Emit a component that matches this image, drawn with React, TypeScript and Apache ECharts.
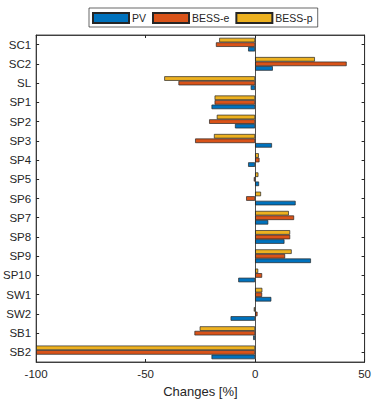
import React, { useEffect, useRef } from "react";
import * as echarts from "echarts";

const categories = ["SC1", "SC2", "SL", "SP1", "SP2", "SP3", "SP4", "SP5", "SP6", "SP7", "SP8", "SP9", "SP10", "SW1", "SW2", "SB1", "SB2"];
const pv = [-3.2, 8.1, -2.0, -19.9, -9.2, 7.7, -3.2, 1.8, 18.5, 6.0, 13.4, 25.5, -7.7, 7.4, -11.2, -0.9, -19.9];
const bessE = [-17.9, 41.8, -35.0, -18.5, -21.0, -27.4, 2.0, -0.6, -4.1, 17.8, 16.0, 13.7, 3.2, 3.2, 1.1, -27.7, -100];
const bessP = [-16.4, 27.3, -41.5, -18.5, -17.5, -18.8, 1.7, 1.5, 2.7, 15.4, 16.0, 16.7, 1.4, 3.3, -0.6, -25.3, -100];
const xTicks = [-100, -50, 0, 50];

const FONT = "Liberation Sans, Arial, sans-serif";
const TXT = "#262626";

export default function App() {
  const ref = useRef<HTMLDivElement>(null);
  useEffect(() => {
    const chart = echarts.init(ref.current!, null, { renderer: "svg" });
    const barStyle = (c: string) => ({ color: c, borderColor: "#262626", borderWidth: 0.7 });
    const common = { type: "bar", barGap: "0%", barCategoryGap: "29%" };
    chart.setOption({
      animation: false,
      textStyle: { fontFamily: FONT, color: TXT },
      legend: {
        data: ["PV", "BESS-e", "BESS-p"],
        icon: "rect",
        top: 8,
        left: 89,
        itemWidth: 36,
        itemHeight: 10,
        itemGap: 6,
        padding: [4, 5, 3, 3],
        borderColor: "#262626",
        borderWidth: 0.7,
        textStyle: { fontFamily: FONT, fontSize: 10.5, color: TXT, padding: [0, 0, 0, -2] },
      },
      grid: { left: 34, right: 8, top: 35, bottom: 44, show: true, borderColor: "#262626", borderWidth: 0.8 },
      xAxis: [
        {
          type: "value",
          min: -100,
          max: 50,
          interval: 50,
          name: "Changes [%]",
          nameLocation: "middle",
          nameGap: 23,
          nameTextStyle: { fontSize: 13, color: TXT, fontFamily: FONT },
          axisLine: { show: true, lineStyle: { color: "#262626", width: 0.8 } },
          axisTick: { show: true, inside: true, length: 3, lineStyle: { color: "#262626" } },
          axisLabel: { fontSize: 11.5, color: TXT, fontFamily: FONT, margin: 6, formatter: (v: number) => (xTicks.includes(v) ? String(v) : "") },
          splitLine: { show: false },
        },
        {
          type: "value",
          position: "top",
          min: -100,
          max: 50,
          interval: 50,
          axisLine: { show: true, lineStyle: { color: "#262626", width: 0.8 } },
          axisTick: { show: true, inside: true, length: 3, lineStyle: { color: "#262626" } },
          axisLabel: { show: false },
          splitLine: { show: false },
        },
      ],
      yAxis: [
        {
          type: "category",
          data: categories,
          inverse: true,
          axisLine: { show: true, onZero: false, lineStyle: { color: "#262626", width: 0.8 } },
          axisTick: { show: true, inside: true, alignWithLabel: true, length: 3, lineStyle: { color: "#262626" } },
          axisLabel: { fontSize: 11.5, color: TXT, fontFamily: FONT, margin: 5 },
        },
        {
          type: "category",
          data: categories,
          inverse: true,
          position: "right",
          axisLine: { show: true, onZero: false, lineStyle: { color: "#262626", width: 0.8 } },
          axisTick: { show: true, inside: true, alignWithLabel: true, length: 3, lineStyle: { color: "#262626" } },
          axisLabel: { show: false },
        },
      ],
      series: [
        { ...common, name: "BESS-p", data: bessP, itemStyle: barStyle("#EDB120") },
        { ...common, name: "BESS-e", data: bessE, itemStyle: barStyle("#D95319") },
        {
          ...common,
          name: "PV",
          data: pv,
          itemStyle: barStyle("#0072BD"),
          markLine: {
            silent: true,
            symbol: "none",
            label: { show: false },
            lineStyle: { color: "#262626", type: "solid", width: 0.8 },
            data: [{ xAxis: 0 }],
          },
        },
      ],
    });
    return () => chart.dispose();
  }, []);
  return <div ref={ref} style={{ position: "absolute", left: 0, top: 0, width: 374, height: 406 }} />;
}
